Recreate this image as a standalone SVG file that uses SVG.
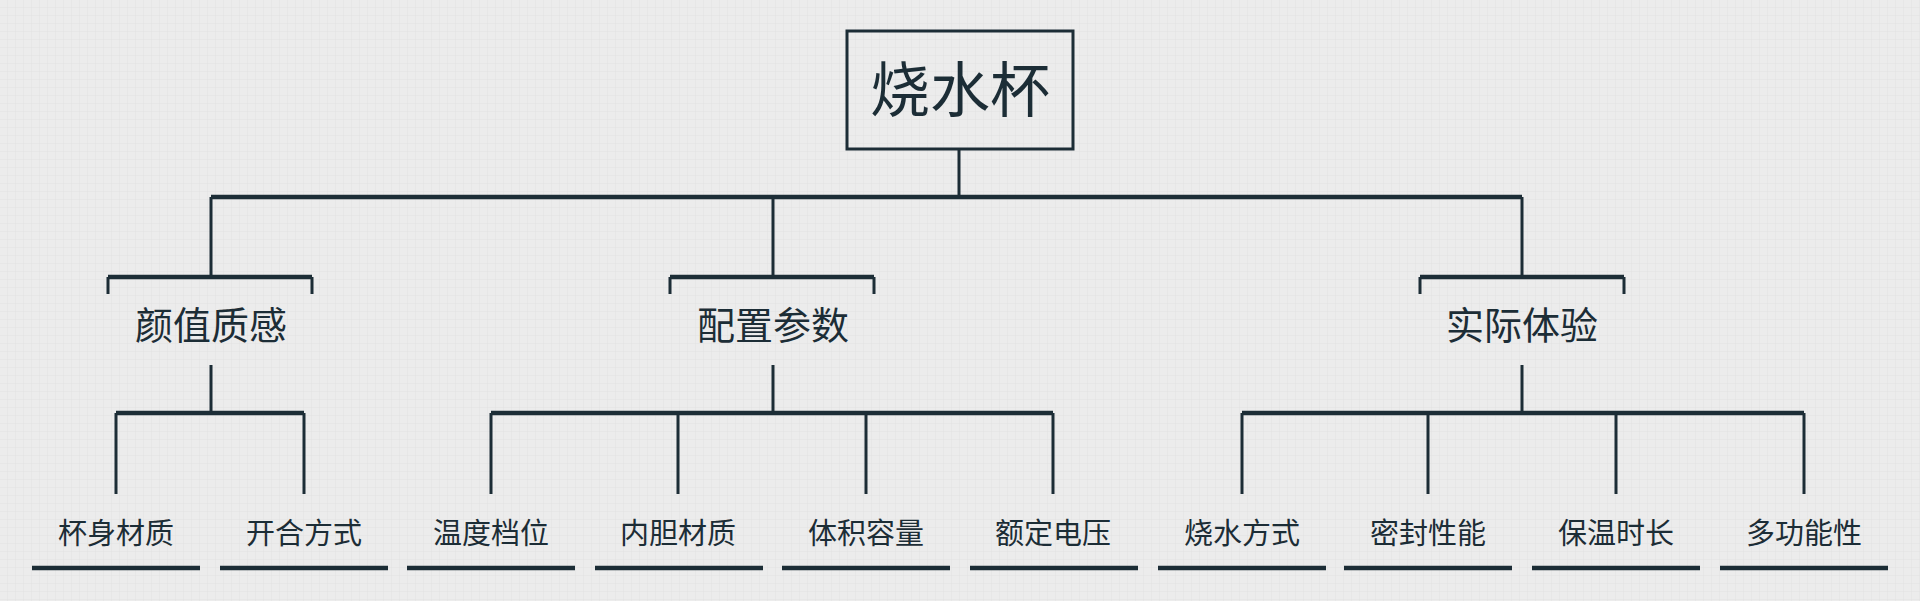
<svg xmlns="http://www.w3.org/2000/svg" width="1920" height="601" viewBox="0 0 1920 601">
<defs>
<pattern id="g" width="8" height="8" patternUnits="userSpaceOnUse"><rect width="8" height="8" fill="#ececec"/><path d="M8 0V8M0 8H8" stroke="#e2e2e2" stroke-width="1"/></pattern>
<style>
.l{stroke:#1c2d36;stroke-width:3;fill:none}
.t{stroke:#1c2d36;stroke-width:4.5;fill:none}
text{font-family:"Noto Sans CJK SC",sans-serif;fill:#1c2d36;text-anchor:middle}
.r{font-size:60px}.m{font-size:38px}.s{font-size:29px}
</style>
</defs>
<rect width="1920" height="601" fill="url(#g)"/>
<g id="connectors">
<path class="l" d="M959 149V197M211 197V277M773 197V277M1522 197V277"/>
<path class="t" d="M211 197H1522"/>
<path class="l" d="M108 277V294M312 277V294M670 277V294M874 277V294M1420 277V294M1624 277V294"/>
<path class="t" d="M108 277H312M670 277H874M1420 277H1624"/>
<path class="l" d="M211 365V413M773 365V413M1522 365V413"/>
<path class="t" d="M116 413H304M491 413H1053M1242 413H1804"/>
<path class="l" d="M116 413V494M304 413V494M491 413V494M678 413V494M866 413V494M1053 413V494M1242 413V494M1428 413V494M1616 413V494M1804 413V494"/>
</g>
<g id="root"><rect class="l" x="847" y="31" width="226" height="118"/><text class="r" x="960" y="112">烧水杯</text></g>
<g id="n1"><text class="m" x="211" y="339">颜值质感</text></g>
<g id="n2"><text class="m" x="773" y="339">配置参数</text></g>
<g id="n3"><text class="m" x="1522" y="339">实际体验</text></g>
<g class="t">
<path d="M32 568H200M220 568H388M407 568H575M595 568H763M782 568H950M970 568H1138M1158 568H1326M1344 568H1512M1532 568H1700M1720 568H1888"/>
</g>
<g id="l1"><text class="s" x="116" y="544">杯身材质</text></g>
<g id="l2"><text class="s" x="304" y="544">开合方式</text></g>
<g id="l3"><text class="s" x="491" y="544">温度档位</text></g>
<g id="l4"><text class="s" x="678" y="544">内胆材质</text></g>
<g id="l5"><text class="s" x="866" y="544">体积容量</text></g>
<g id="l6"><text class="s" x="1053" y="544">额定电压</text></g>
<g id="l7"><text class="s" x="1242" y="544">烧水方式</text></g>
<g id="l8"><text class="s" x="1428" y="544">密封性能</text></g>
<g id="l9"><text class="s" x="1616" y="544">保温时长</text></g>
<g id="l10"><text class="s" x="1804" y="544">多功能性</text></g>
</svg>
